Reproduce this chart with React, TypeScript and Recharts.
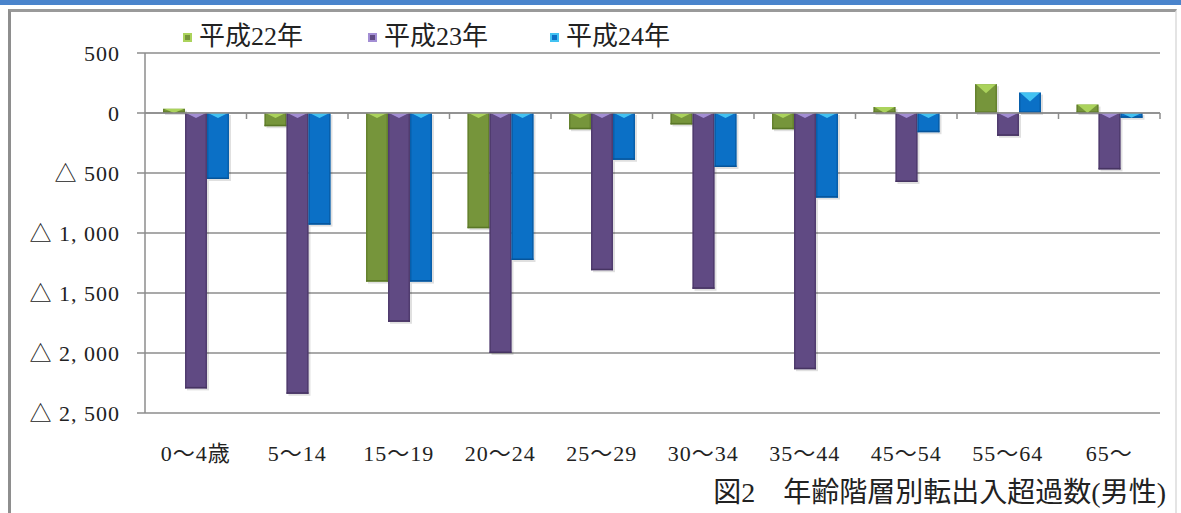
import { BarChart, Bar, XAxis, YAxis, CartesianGrid, ReferenceLine } from "recharts";

const categories = ["0～4歳", "5～14", "15～19", "20～24", "25～29", "30～34", "35～44", "45～54", "55～64", "65～"];
const h22 = [35, -110, -1405, -960, -135, -95, -135, 50, 240, 70];
const h23 = [-2295, -2340, -1740, -2000, -1310, -1465, -2135, -575, -190, -470];
const h24 = [-550, -930, -1405, -1225, -390, -450, -705, -160, 170, -40];
const yTicks = [500, 0, -500, -1000, -1500, -2000, -2500];

const SERIES = [
  { key: "h22", name: "平成22年", color: "#76953b", light: "#abd35c", dark: "#5a7727" },
  { key: "h23", name: "平成23年", color: "#604a83", light: "#a38ed4", dark: "#463462" },
  { key: "h24", name: "平成24年", color: "#0b70c6", light: "#42c2f2", dark: "#06549a" },
];

const data = categories.map((age, i) => ({ age, h22: h22[i], h23: h23[i], h24: h24[i] }));

const FONT = "'Liberation Serif', 'Noto Sans CJK JP', serif";
const GRID = "#8c8c8c";

function fmtY(v: number) {
  if (v >= 0) return String(v);
  const s = Math.abs(v).toLocaleString("en-US").replace(",", ", ");
  return "△ " + s;
}

function BevelBar(props: any) {
  const { x, y, width, height, color, light, dark, value } = props;
  if (width == null || height == null) return null;
  const top = Math.min(y, y + height);
  const h = Math.abs(height);
  if (h < 0.5) return null;
  const v = Array.isArray(value) ? value[1] - value[0] : value;
  const depth = Math.min(h, v > 0 ? 9 : 5);
  return (
    <g>
      <rect x={x + 2} y={top + 2} width={width} height={h} fill="#000" opacity={0.12} />
      <rect x={x} y={top} width={width} height={h} fill={color} />
      <rect x={x} y={top} width={1.5} height={h} fill={dark} opacity={0.6} />
      <rect x={x + width - 1.5} y={top} width={1.5} height={h} fill={dark} opacity={0.6} />
      <rect x={x} y={top + h - 1.5} width={width} height={1.5} fill={dark} />
      <polygon
        points={`${x + 1},${top} ${x + width - 1},${top} ${x + width / 2},${top + depth}`}
        fill={light}
      />
    </g>
  );
}

function ZeroAxis(props: any) {
  const { x1, x2, y1 } = props;
  if (x1 == null) return null;
  const n = categories.length;
  const step = (x2 - x1) / n;
  return (
    <g>
      <line x1={x1} x2={x2} y1={y1} y2={y1} stroke={GRID} strokeWidth={1.5} />
      {categories.map((_, i) => (
        <line
          key={i}
          x1={x1 + step * (i + 1)}
          x2={x1 + step * (i + 1)}
          y1={y1}
          y2={y1 + 6}
          stroke={GRID}
          strokeWidth={1.5}
        />
      ))}
    </g>
  );
}

function LegendBox() {
  const lefts = [183, 368, 550];
  return (
    <>
      {SERIES.map((s, i) => (
        <div
          key={s.key}
          style={{
            position: "absolute",
            left: lefts[i],
            top: 21,
            display: "flex",
            alignItems: "center",
            fontFamily: FONT,
            fontSize: 26,
            color: "#222",
            lineHeight: "32px",
          }}
        >
          <span
            style={{
              display: "inline-block",
              width: 9,
              height: 9,
              background: s.color,
              boxShadow: `inset 0 0 0 2px ${s.light}`,
              marginRight: 7,
            }}
          />
          {s.name}
        </div>
      ))}
    </>
  );
}

export default function App() {
  return (
    <div
      style={{
        position: "absolute",
        left: 0,
        top: 0,
        width: 1181,
        height: 513,
        background: "#fff",
        overflow: "hidden",
      }}
    >
      <div style={{ position: "absolute", left: 0, top: 0, width: 1181, height: 5, background: "#4a84cc" }} />
      <div
        style={{
          position: "absolute",
          left: 8,
          top: 9,
          width: 1164,
          height: 520,
          borderLeft: "3px solid #8e8e8e",
          borderTop: "3px solid #9a9a9a",
          borderRight: "2px solid #e4e4e4",
        }}
      />
      <div style={{ position: "absolute", left: 0, top: 0 }}>
        <BarChart
          width={1181}
          height={513}
          data={data}
          margin={{ top: 53, right: 21, bottom: 70, left: 10 }}
          barSize={22}
          barGap={0}
        >
          <CartesianGrid vertical={false} stroke={GRID} strokeWidth={1.5} />
          <XAxis
            dataKey="age"
            axisLine={false}
            tickLine={false}
            interval={0}
            tickMargin={26}
            tick={{ fontSize: 22, fill: "#222", fontFamily: FONT, letterSpacing: 1 }}
          />
          <YAxis
            type="number"
            domain={[-2500, 500]}
            ticks={yTicks}
            interval={0}
            width={135}
            tickSize={8}
            tickMargin={17}
            tickFormatter={fmtY}
            axisLine={{ stroke: GRID, strokeWidth: 1.5 }}
            tickLine={{ stroke: GRID, strokeWidth: 1.5 }}
            tick={{ fontSize: 22, fill: "#222", fontFamily: FONT, letterSpacing: 1 }}
          />
          <ReferenceLine y={0} shape={<ZeroAxis />} />
          {SERIES.map((s) => (
            <Bar
              key={s.key}
              dataKey={s.key}
              name={s.name}
              fill={s.color}
              isAnimationActive={false}
              shape={(p: any) => <BevelBar {...p} color={s.color} light={s.light} dark={s.dark} />}
            />
          ))}
        </BarChart>
      </div>
      <LegendBox />
      <div
        style={{
          position: "absolute",
          right: 15,
          top: 476,
          fontFamily: FONT,
          fontSize: 28,
          color: "#222",
          whiteSpace: "nowrap",
          lineHeight: "34px",
        }}
      >
        図2　年齢階層別転出入超過数(男性)
      </div>
    </div>
  );
}
